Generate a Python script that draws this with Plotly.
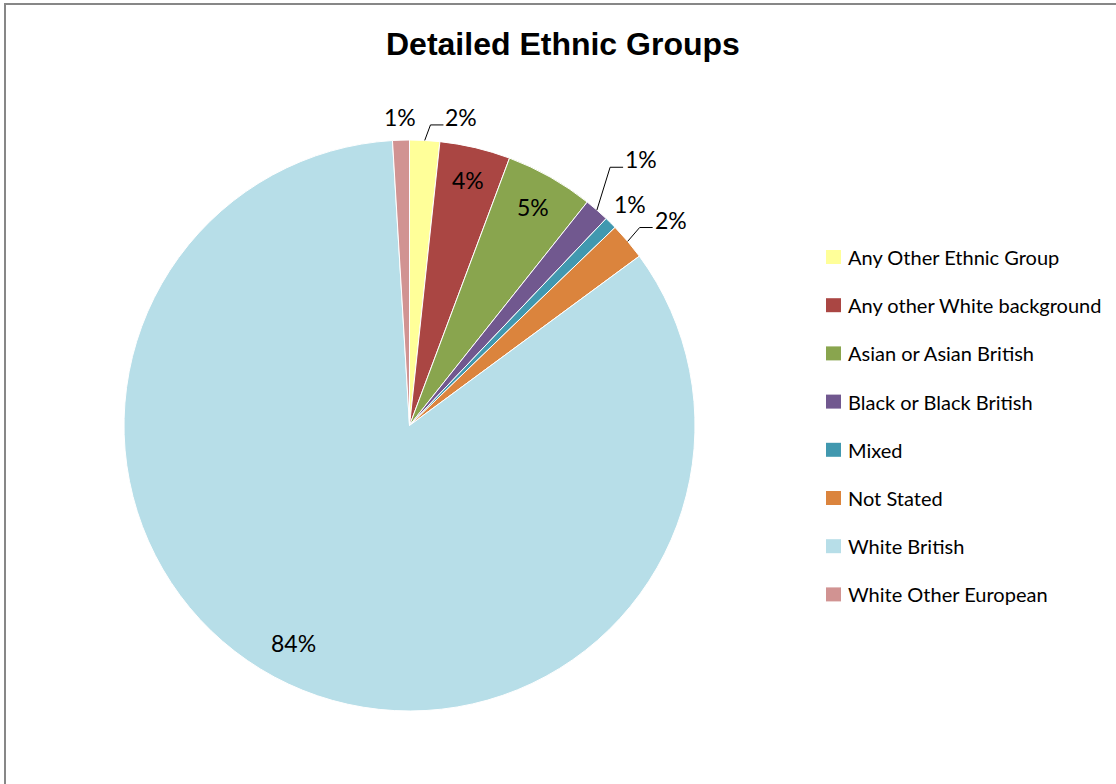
import math
import plotly.graph_objects as go

# Ethnic group shares (percent of population)
groups = [
    "Any Other Ethnic Group",
    "Any other White background",
    "Asian or Asian British",
    "Black or Black British",
    "Mixed",
    "Not Stated",
    "White British",
    "White Other European",
]
shares = [1.7, 4.0, 5.0, 1.4, 0.7, 2.1, 84.2, 0.95]
colors = ["#FFFF99", "#AA4643", "#89A54E", "#71588F", "#4198AF", "#DB843D", "#B7DEE8", "#D19392"]

# Label placement per slice: (inside?, radius factor, angle nudge in degrees, leader line?)
label_style = [
    (False, 1.096, 6.5, True),
    (True, 0.885, 0.0, False),
    (True, 0.880, 0.0, False),
    (False, 1.236, 0.0, True),
    (False, 1.095, 0.0, False),
    (False, 1.165, 1.9, True),
    (True, 0.865, 3.0, False),
    (False, 1.081, 0.0, False),
]

W, H = 1116, 784
CX, CY, R = 409.5, 425.5, 285.5  # pie centre and radius in pixels


def px(x):
    return x / W


def py(y):
    return 1 - y / H


fig = go.Figure()
fig.add_trace(go.Pie(
    labels=groups,
    values=shares,
    sort=False,
    direction="clockwise",
    rotation=0,
    marker=dict(colors=colors, line=dict(color="white", width=1)),
    textinfo="none",
    showlegend=False,
    hoverinfo="label+percent",
    domain=dict(x=[px(CX - R), px(CX + R)], y=[py(CY + R), py(CY - R)]),
))

annotations = []
shapes = []

total = sum(shares)
cum = 0.0
for name, val, (inside, rf, nudge, leader) in zip(groups, shares, label_style):
    mid = (cum + val / 2) / total * 360.0
    cum += val
    ang = math.radians(mid + nudge)
    tx = CX + rf * R * math.sin(ang)
    ty = CY - rf * R * math.cos(ang)
    pct = round(val / total * 100)
    annotations.append(dict(
        x=px(tx), y=py(ty), xref="paper", yref="paper",
        text=f"{pct}%", showarrow=False, xanchor="center", yanchor="middle",
        font=dict(family="Lato, Open Sans, sans-serif", size=23, color="#000000"),
    ))
    if leader:
        a = math.radians(mid)
        ex = CX + R * math.sin(a)
        ey = CY - R * math.cos(a)
        ly = ty + 8
        path = (f"M {px(ex)},{py(ey)} L {px(tx - 31)},{py(ly)} "
                f"L {px(tx - 18)},{py(ly)}")
        shapes.append(dict(type="path", xref="paper", yref="paper", path=path,
                           line=dict(color="#000000", width=1)))

# Legend drawn to the right of the pie
LX, LY0, LDY = 826, 257, 48.2
for i, (name, col) in enumerate(zip(groups, colors)):
    yc = LY0 + i * LDY
    shapes.append(dict(type="rect", xref="paper", yref="paper",
                       x0=px(LX), x1=px(LX + 15), y0=py(yc + 7), y1=py(yc - 7),
                       fillcolor=col, line=dict(width=0)))
    annotations.append(dict(
        x=px(846), y=py(yc), xref="paper", yref="paper", text=name,
        showarrow=False, xanchor="left", yanchor="middle",
        font=dict(family="Lato, sans-serif", size=20, color="#000000"),
    ))

# Title
annotations.append(dict(
    x=px(562.5), y=py(44), xref="paper", yref="paper",
    text="<b>Detailed Ethnic Groups</b>", showarrow=False,
    xanchor="center", yanchor="middle",
    font=dict(family="Liberation Sans, Arial, sans-serif", size=32, color="#000000"),
))

# Chart frame
shapes.append(dict(type="rect", xref="paper", yref="paper",
                   x0=px(5), x1=px(1125), y0=py(795), y1=py(4),
                   line=dict(color="#878787", width=2), fillcolor="rgba(0,0,0,0)"))

fig.update_layout(
    width=W, height=H,
    margin=dict(l=0, r=0, t=0, b=0),
    paper_bgcolor="white",
    plot_bgcolor="white",
    annotations=annotations,
    shapes=shapes,
)

fig.write_html("out.html")
